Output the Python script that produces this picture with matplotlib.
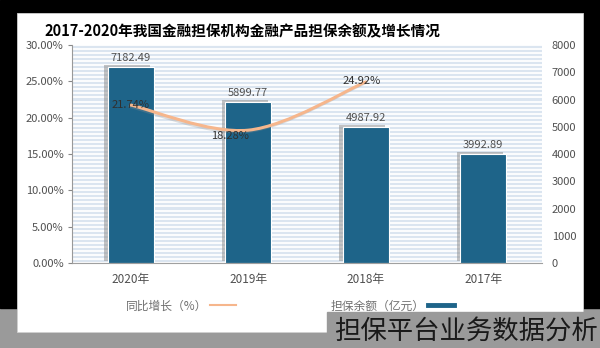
import numpy as np
import matplotlib.pyplot as plt
from matplotlib.patches import Rectangle, PathPatch
from matplotlib.path import Path
from matplotlib.lines import Line2D
import matplotlib.patheffects as pe

plt.rcParams['font.family'] = ['Noto Sans CJK SC', 'DejaVu Sans']

years = ['2017年', '2018年', '2019年', '2020年']
balance = [3992.89, 4987.92, 5899.77, 7182.49]      # 担保余额（亿元）
growth = [np.nan, 24.92, 18.28, 21.74]              # 同比增长（%）
pct_ticks = [0, 5, 10, 15, 20, 25, 30]
amt_ticks = [0, 1000, 2000, 3000, 4000, 5000, 6000, 7000, 8000]
title = '2017-2020年我国金融担保机构金融产品担保余额及增长情况'

bar_color = '#1e6489'
line_color = '#f6b68c'
grey_txt = '#505050'

fig = plt.figure(figsize=(6, 3.48), dpi=100)
fig.patch.set_facecolor('#9a9a9a')
W, H = 600.0, 348.0
# dark frame + white panel
fig.patches.append(Rectangle((0, 1 - 308 / H), 1, 308 / H, transform=fig.transFigure,
                             color='black', zorder=-5))
fig.patches.append(Rectangle((17 / W, 1 - 332 / H), 566 / W, 319 / H, transform=fig.transFigure,
                             facecolor='white', edgecolor='#d0d0d0', lw=0.6, zorder=-4))

ax = fig.add_axes([72 / W, 1 - 263 / H, 470 / W, 218 / H])
ax.set_facecolor('#dbe5f0')
for y in np.linspace(0, 8000, 55):
    ax.axhline(y, color='white', lw=1.3, zorder=0)

x = np.arange(len(years))
bars = ax.bar(x, balance, width=0.39, color=bar_color, edgecolor='white', lw=0.8, zorder=2)
for b in bars:
    b.set_path_effects([pe.SimplePatchShadow(offset=(-2.5, 1.5), shadow_rgbFace='#8a8a8a', alpha=0.5),
                        pe.Normal()])
ax.bar_label(bars, labels=[f'{v:.2f}' for v in balance], padding=3, fontsize=8, color=grey_txt)
ax.set_xlim(3.5, -0.5)
ax.set_ylim(0, 8000)
ax.set_xticks(x)
ax.set_xticklabels(years)
ax.tick_params(axis='x', length=0, pad=7, labelsize=8.5, labelcolor=grey_txt)
for s in ['top', 'left', 'right']:
    ax.spines[s].set_visible(False)
ax.spines['bottom'].set_color('#a0a0a0')

ax2 = ax.twinx()
# amounts on the right, percentages on the left
ax.yaxis.tick_right()
ax.set_yticks(amt_ticks)
ax.tick_params(axis='y', length=0, pad=7, labelsize=8, labelcolor=grey_txt)
ax2.yaxis.tick_left()
ax2.set_ylim(0, 30)
ax2.set_yticks(pct_ticks)
ax2.set_yticklabels([f'{v:.2f}%' for v in pct_ticks])
ax2.tick_params(axis='y', length=3, color='#888888', pad=3, labelsize=8, labelcolor=grey_txt)
for s in ['top', 'right', 'bottom']:
    ax2.spines[s].set_visible(False)
ax2.spines['left'].set_color('#999999')

# smoothed growth line (Catmull-Rom as cubic Bezier)
gx = [xi for xi, g in zip(x, growth) if not np.isnan(g)]
gy = [g for g in growth if not np.isnan(g)]
pts = np.column_stack([gx, gy]).astype(float)
ext = np.vstack([pts[0], pts, pts[-1]])
verts, codes = [pts[0]], [Path.MOVETO]
for i in range(1, len(ext) - 2):
    p0, p1, p2, p3 = ext[i - 1], ext[i], ext[i + 1], ext[i + 2]
    verts += [p1 + (p2 - p0) / 6, p2 - (p3 - p1) / 6, p2]
    codes += [Path.CURVE4] * 3
curve = PathPatch(Path(verts, codes), facecolor='none', edgecolor=line_color, lw=2.2,
                  capstyle='round', zorder=3)
curve.set_path_effects([pe.SimpleLineShadow(offset=(-1, -1), shadow_color='#909090', alpha=0.3),
                        pe.Normal()])
ax2.add_patch(curve)

offsets = {1: (-3, 1), 2: (-13, -4), 3: (0, 0)}
for xi, g in zip(x, growth):
    if np.isnan(g):
        continue
    ax2.annotate(f'{g:.2f}%', (xi, g), xytext=offsets[xi], textcoords='offset points',
                 ha='center', va='center', fontsize=8, color='#303030', zorder=4)

fig.text(242 / W, 1 - 31 / H, title, ha='center', va='center', fontsize=10.5,
         fontweight='bold', color='black')

handles = [Line2D([], [], color=line_color, lw=1.5), Line2D([], [], color=bar_color, lw=3.5)]
fig.legend(handles, ['同比增长（%）', '担保余额（亿元）'], loc='center', ncol=2,
           bbox_to_anchor=(290 / W, 1 - 306 / H), frameon=False, markerfirst=False,
           fontsize=8.5, labelcolor='#707070', handlelength=2.2, columnspacing=8,
           handletextpad=0.3)

# watermark band
fig.patches.append(Rectangle((327 / W, 0), 273 / W, 36 / H, transform=fig.transFigure,
                             color='#9a9a9a', zorder=5))
fig.text(598 / W, 17 / H, '担保平台业务数据分析', ha='right', va='center', fontsize=19,
         fontweight='light', color='#1a1a1a', zorder=6)

fig.savefig('out.png', dpi=100, facecolor=fig.get_facecolor())
